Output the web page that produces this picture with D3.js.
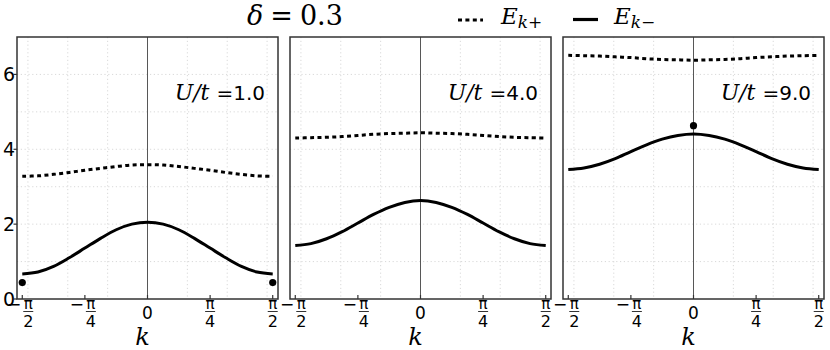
<!DOCTYPE html>
<html><head><meta charset="utf-8">
<script src="https://cdn.jsdelivr.net/npm/d3@7"></script>
<style>body{margin:0;background:#fff}svg{display:block}</style>
</head><body><svg id="c" width="830" height="350"></svg>
<script>
// ---- data ----
const kSteps = d3.range(-8, 9);               // k = j*pi/16, j=-8..8
const kValues = kSteps.map(j => j * Math.PI / 16);
const panelsU = ["1.0", "4.0", "9.0"];
// E_{k-} (solid), symmetric about k=0
const eMinus1 = [0.67,0.72,0.87,1.10,1.36,1.62,1.85,2.00,2.05,2.00,1.85,1.62,1.36,1.10,0.87,0.72,0.67];
const eMinus4 = [1.43,1.48,1.61,1.80,2.03,2.26,2.45,2.58,2.63,2.58,2.45,2.26,2.03,1.80,1.61,1.48,1.43];
const eMinus9 = [3.46,3.50,3.60,3.75,3.94,4.12,4.27,4.37,4.41,4.37,4.27,4.12,3.94,3.75,3.60,3.50,3.46];
// E_{k+} (dotted)
const ePlus1 = [3.28,3.29,3.33,3.38,3.44,3.49,3.54,3.58,3.59,3.58,3.54,3.49,3.44,3.38,3.33,3.29,3.28];
const ePlus4 = [4.30,4.31,4.32,4.34,4.37,4.40,4.42,4.43,4.44,4.43,4.42,4.40,4.37,4.34,4.32,4.31,4.30];
const ePlus9 = [6.51,6.50,6.49,6.47,6.45,6.42,6.40,6.39,6.38,6.39,6.40,6.42,6.45,6.47,6.49,6.50,6.51];
// isolated points
const dots1 = [{k: -Math.PI/2, e: 0.44}, {k: Math.PI/2, e: 0.44}];
const dots4 = [];
const dots9 = [{k: 0, e: 4.63}];
const yTicks = [0, 2, 4, 6];
const yGrid = [1, 2, 3, 4, 5, 6];
const xGrid = [-1.5, -1, -0.5, 0.5, 1, 1.5];
const xTicks = [
  {v: -Math.PI/2, neg: true, den: "2"},
  {v: -Math.PI/4, neg: true, den: "4"},
  {v: 0, zero: true},
  {v: Math.PI/4, neg: false, den: "4"},
  {v: Math.PI/2, neg: false, den: "2"}
];

const panels = [
  {u: panelsU[0], minus: eMinus1, plus: ePlus1, dots: dots1},
  {u: panelsU[1], minus: eMinus4, plus: ePlus4, dots: dots4},
  {u: panelsU[2], minus: eMinus9, plus: ePlus9, dots: dots9}
];

const svg = d3.select("#c");
const lefts = [17, 290, 563], W = 261, topY = 37, botY = 299;
const y = d3.scaleLinear().domain([0, 7]).range([botY, topY]);
const SERIF = "'DejaVu Serif', serif", SANS = "'DejaVu Sans', sans-serif";

panels.forEach((p, i) => {
  const L = lefts[i];
  const x = d3.scaleLinear().domain([-1.637, 1.637]).range([L, L + W]);
  const g = svg.append("g");
  // grid
  g.selectAll(".gx").data(xGrid).join("line")
    .attr("x1", d => x(d)).attr("x2", d => x(d)).attr("y1", topY).attr("y2", botY)
    .attr("stroke", "#cfcfcf").attr("stroke-width", 0.8).attr("stroke-dasharray", "1.2,2.6");
  g.selectAll(".gy").data(yGrid).join("line")
    .attr("x1", L).attr("x2", L + W).attr("y1", d => y(d)).attr("y2", d => y(d))
    .attr("stroke", "#cfcfcf").attr("stroke-width", 0.8).attr("stroke-dasharray", "1.2,2.6");
  // zero line
  g.append("line").attr("x1", x(0)).attr("x2", x(0)).attr("y1", topY).attr("y2", botY)
    .attr("stroke", "#444").attr("stroke-width", 0.9);
  // curves
  const line = d3.line().x((d, j) => x(kValues[j])).y(d => y(d)).curve(d3.curveCatmullRom);
  g.append("path").attr("d", line(p.plus)).attr("fill", "none").attr("stroke", "#000")
    .attr("stroke-width", 3).attr("stroke-dasharray", "4,3.4");
  g.append("path").attr("d", line(p.minus)).attr("fill", "none").attr("stroke", "#000")
    .attr("stroke-width", 3);
  g.selectAll(".dot").data(p.dots).join("circle")
    .attr("cx", d => x(d.k)).attr("cy", d => y(d.e)).attr("r", 3.6).attr("fill", "#000");
  // frame
  g.append("rect").attr("x", L).attr("y", topY).attr("width", W).attr("height", botY - topY)
    .attr("fill", "none").attr("stroke", "#333").attr("stroke-width", 1.5);
  // x ticks (inward)
  g.selectAll(".xt").data(xTicks).join("line")
    .attr("x1", d => x(d.v)).attr("x2", d => x(d.v)).attr("y1", botY).attr("y2", botY - 4)
    .attr("stroke", "#333").attr("stroke-width", 1.2);
  // x tick labels
  xTicks.forEach(t => {
    const cx = x(t.v);
    if (t.zero) {
      g.append("text").attr("x", cx).attr("y", 319).attr("text-anchor", "middle")
        .attr("font-family", SANS).attr("font-size", 17).text("0");
      return;
    }
    const fx = t.neg ? cx + 6 : cx;
    if (t.neg) {
      g.append("text").attr("x", fx - 7).attr("y", 310).attr("text-anchor", "end")
        .attr("font-family", SANS).attr("font-size", 17).text("\u2212");
    }
    g.append("text").attr("x", fx).attr("y", 309).attr("text-anchor", "middle")
      .attr("font-family", SANS).attr("font-size", 15).text("\u03c0");
    g.append("line").attr("x1", fx - 5).attr("x2", fx + 5).attr("y1", 311.5).attr("y2", 311.5)
      .attr("stroke", "#000").attr("stroke-width", 0.8);
    g.append("text").attr("x", fx).attr("y", 326.5).attr("text-anchor", "middle")
      .attr("font-family", SANS).attr("font-size", 16).text(t.den);
  });
  // x label
  g.append("text").attr("x", x(0) - 5).attr("y", 345).attr("text-anchor", "middle")
    .attr("font-family", SERIF).attr("font-style", "italic").attr("font-size", 24).text("k");
  // U/t annotation
  const ut = g.append("text").attr("x", L + W - 13).attr("y", 100).attr("text-anchor", "end");
  ut.append("tspan").attr("font-family", SERIF).attr("font-style", "italic").attr("font-size", 22).text("U/t");
  ut.append("tspan").attr("dx", 7).attr("font-family", SANS).attr("font-size", 20).text("=" + p.u);
  // y axis (first panel only)
  if (i === 0) {
    g.selectAll(".yt").data(yTicks).join("line")
      .attr("x1", L - 3.5).attr("x2", L).attr("y1", d => y(d)).attr("y2", d => y(d))
      .attr("stroke", "#333").attr("stroke-width", 1.2);
    g.selectAll(".yl").data(yTicks).join("text")
      .attr("x", L - 2).attr("y", d => y(d) + 6.5).attr("text-anchor", "end")
      .attr("font-family", SANS).attr("font-size", 19).text(d => d);
  }
});

// title
const title = svg.append("text").attr("x", 247).attr("y", 25).attr("font-family", SERIF).attr("font-size", 27);
title.append("tspan").attr("font-style", "italic").text("\u03b4");
title.append("tspan").attr("dx", 7).text("=");
title.append("tspan").attr("dx", 7).text("0.3");

// legend
svg.append("line").attr("x1", 458).attr("x2", 483).attr("y1", 20).attr("y2", 20)
  .attr("stroke", "#000").attr("stroke-width", 3.2).attr("stroke-dasharray", "4,3.4");
svg.append("line").attr("x1", 573).attr("x2", 598).attr("y1", 19.5).attr("y2", 19.5)
  .attr("stroke", "#000").attr("stroke-width", 3.2);
[{x: 501, s: "k+"}, {x: 614, s: "k\u2212"}].forEach(d => {
  const t = svg.append("text").attr("x", d.x).attr("y", 24).attr("font-family", SERIF).attr("font-style", "italic");
  t.append("tspan").attr("font-size", 23).text("E");
  t.append("tspan").attr("font-size", 17).attr("dy", 4).text(d.s);
});
</script></body></html>
